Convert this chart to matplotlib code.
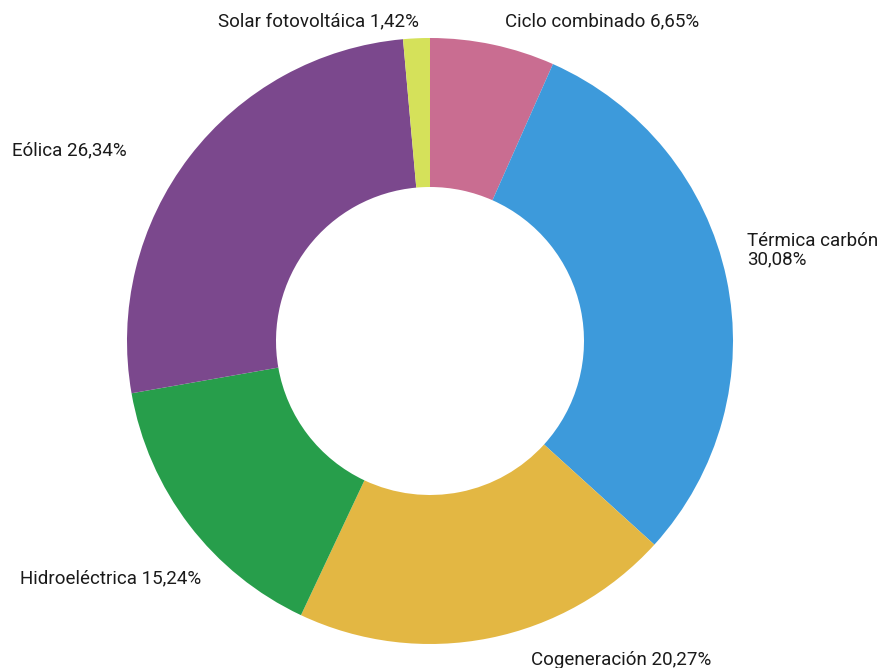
import matplotlib
matplotlib.use("Agg")
import matplotlib.pyplot as plt

labels = ['Ciclo combinado', 'Térmica carbón', 'Cogeneración',
          'Hidroeléctrica', 'Eólica', 'Solar fotovoltáica']
values = [6.65, 30.08, 20.27, 15.24, 26.34, 1.42]
colors = ['#C96D91', '#3D9ADB', '#E3B743', '#279E4B', '#7B488D', '#D5E15A']

# label text anchors in pixel coords (x, y from top, ha)
label_pos = [(505, 21, 'left'), (747, 250, 'left'), (531, 660, 'left'),
             (20, 578, 'left'), (12, 150, 'left'), (419, 21, 'right')]
label_text = ['Ciclo combinado 6,65%', 'Térmica carbón\n30,08%', 'Cogeneración 20,27%',
              'Hidroeléctrica 15,24%', 'Eólica 26,34%', 'Solar fotovoltáica 1,42%']

W, H = 887, 668
fig = plt.figure(figsize=(W / 100, H / 100), dpi=100)
ax = fig.add_axes([0, 0, 1, 1])

ax.pie(values, colors=colors, startangle=90, counterclock=False,
       center=(430, H - 341), radius=303, frame=True,
       wedgeprops=dict(width=303 - 154, linewidth=0))
ax.set_xlim(0, W)
ax.set_ylim(0, H)
ax.set_aspect('equal')
ax.axis('off')

for (x, y, ha), t in zip(label_pos, label_text):
    ax.text(x, H - y, t, ha=ha, va='center', fontsize=13.5, family='Roboto',
            color='#1a1a1a', linespacing=1.0)

fig.savefig('out.png', dpi=100)
